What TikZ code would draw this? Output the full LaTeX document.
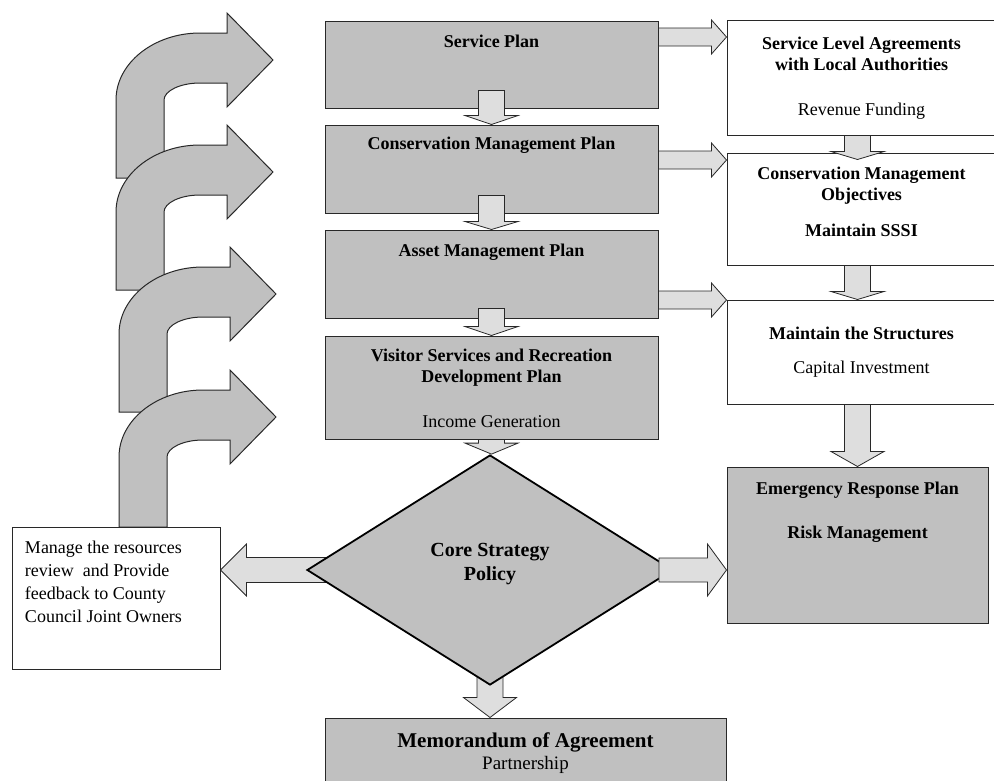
\documentclass[tikz,border=0pt]{standalone}
\usepackage{fontspec}
\setmainfont{Liberation Serif}
\usetikzlibrary{shapes,arrows,positioning,calc,backgrounds}
\definecolor{boxgray}{RGB}{192,192,192}
\definecolor{arrowgray}{RGB}{222,222,222}
\definecolor{edgegray}{RGB}{40,40,40}
\tikzstyle{plan} = [rectangle, draw = edgegray, fill = boxgray, line width = 1pt, inner sep = 0pt, font = \fontsize{18}{21}\selectfont\bfseries]
\tikzstyle{target} = [plan, fill = white]
\tikzstyle{note} = [rectangle, draw = edgegray, fill = white, line width = 1pt, inner sep = 0pt, font = \fontsize{18}{23}\selectfont]
\tikzstyle{decision} = [diamond, draw = black, fill = boxgray, line width = 1.8pt, inner sep = 0pt, minimum width = 366pt, minimum height = 193pt, font = \fontsize{20}{24}\selectfont\bfseries]
\tikzstyle{blk} = [draw = edgegray, fill = arrowgray, line width = 0.8pt]
\tikzstyle{bent} = [draw = edgegray, fill = boxgray, line width = 1pt]

% text block of a box: width, height, space above, lines
\newcommand{\planbox}[4]{\parbox[c][#2][t]{#1}{\centering\vspace*{#3}\strut#4}}
% block arrow downwards: start, tip, head length
\newcommand{\vblock}[3]{%
  \draw[blk] let \p1 = (#1), \p2 = (#2) in
    ({\x1-13pt},\y1) -- ({\x1-13pt},{\y2+#3}) -- ({\x1-26.5pt},{\y2+#3}) -- (\x1,\y2)
    -- ({\x1+26.5pt},{\y2+#3}) -- ({\x1+13pt},{\y2+#3}) -- ({\x1+13pt},\y1) -- cycle;}
% block arrow sideways: start, tip, shaft half, head half, head length
\newcommand{\hblock}[5]{%
  \draw[blk] let \p1 = (#1), \p2 = (#2) in
    (\x1,{\y1+#3}) -- ({\x2-(#5)},{\y1+#3}) -- ({\x2-(#5)},{\y1+#4}) -- (\x2,\y1)
    -- ({\x2-(#5)},{\y1-#4}) -- ({\x2-(#5)},{\y1-#3}) -- (\x1,{\y1-#3}) -- cycle;}
% bent feedback arrow: tip x, tip y, bottom y
\newcommand{\bentarrow}[3]{%
  \draw[bent] ({#1-157},#3) -- ({#1-157},{#2+40})
    .. controls ({#1-157},{#2+3}) and ({#1-119},{#2-27}) .. ({#1-73},{#2-27})
    -- ({#1-46},{#2-27}) -- ({#1-46},{#2-47}) -- (#1,#2) -- ({#1-46},{#2+47})
    -- ({#1-46},{#2+23}) -- ({#1-73},{#2+23})
    .. controls ({#1-93},{#2+23}) and ({#1-109},{#2+31}) .. ({#1-109},{#2+40})
    -- ({#1-109},#3) -- cycle;}

\begin{document}
\begin{tikzpicture}[x = 1pt, y = -1pt]
			\useasboundingbox (0, 0) rectangle (994, 780);
			% Feedback arrows
			\bentarrow{273}{60}{178}
			\bentarrow{273}{172}{290}
			\bentarrow{276}{294}{412}
			\bentarrow{276}{417}{527}

			% Place nodes
			\node [note] (res) at (116, 598) {\parbox[c][142pt][t]{208pt}{\raggedright\leftskip=13pt\vspace*{9.9pt}\strut Manage the resources\\ review\ \ and Provide\\ feedback to County\\ Council Joint Owners}};
			\node [plan] (sp) at (491.5, 64.5) {\planbox{333pt}{87pt}{11.3pt}{Service Plan}};
			\node [plan] (cmp) at (491.5, 169) {\planbox{333pt}{88pt}{9.3pt}{Conservation Management Plan}};
			\node [plan] (amp) at (491.5, 274) {\planbox{333pt}{88pt}{11.3pt}{Asset Management Plan}};
			\node [plan] (vsp) at (491.5, 387.5) {\planbox{333pt}{103pt}{10.3pt}{Visitor Services and Recreation\\ Development Plan\\[24pt] \mdseries Income Generation}};
			\node [target] (sla) at (861.5, 77.5) {\planbox{269pt}{115pt}{14.3pt}{Service Level Agreements\\ with Local Authorities\\[24pt] \mdseries Revenue Funding}};
			\node [target] (cmo) at (861.5, 209) {\planbox{269pt}{112pt}{11.3pt}{Conservation Management\\ Objectives\\[15pt] Maintain SSSI}};
			\node [target] (mts) at (861.5, 352) {\planbox{269pt}{104pt}{24.3pt}{Maintain the Structures\\[13pt] \mdseries Capital Investment}};
			\node [plan] (erp) at (857.5, 545) {\planbox{261pt}{156pt}{12.3pt}{Emergency Response Plan\\[23pt] Risk Management}};
			\node [plan, font = \fontsize{21}{22}\selectfont\bfseries] (mem) at (525.5, 751) {\planbox{401pt}{66pt}{13.6pt}{Memorandum of Agreement\\ \fontsize{19}{22}\selectfont\mdseries Partnership}};
			\node [decision] (core) at (490, 570) {\parbox[c][60pt][t]{170pt}{\centering\strut Core Strategy\\ Policy}};

			% Draw edges
			\vblock{[yshift=18pt]sp.south}{cmp.north}{9pt}
			\vblock{[yshift=18pt]cmp.south}{amp.north}{8pt}
			\vblock{[yshift=10pt]amp.south}{vsp.north}{9pt}
			\vblock{[xshift=-4pt]sla.south}{[yshift=-7pt]cmo.north}{8pt}
			\vblock{[xshift=-4pt]cmo.south}{mts.north}{8pt}
			\vblock{[xshift=-4pt]mts.south}{erp.north}{15pt}
			\hblock{[yshift=27.5pt]sp.east}{sla.west}{9pt}{17pt}{15pt}
			\hblock{[yshift=9pt]cmp.east}{cmo.west}{9pt}{17pt}{15pt}
			\hblock{[yshift=-26pt]amp.east}{mts.west}{9pt}{17pt}{15pt}
			\hblock{[xshift=-15pt]core.east}{erp.west}{12pt}{26pt}{19pt}
			\begin{pgfonlayer}{background}
				\vblock{vsp.south}{core.north}{11pt}
				\vblock{[yshift=15pt]core.south}{mem.north}{20pt}
				\hblock{[xshift=20pt]core.west}{res.east}{12.5pt}{26pt}{-26pt}
			\end{pgfonlayer}
		\end{tikzpicture}
\end{document}
